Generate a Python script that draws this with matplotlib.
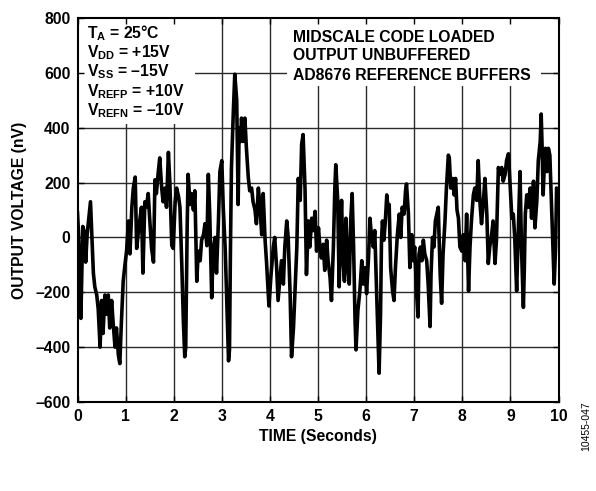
import matplotlib
matplotlib.use("Agg")
import matplotlib.pyplot as plt
from matplotlib.patches import Rectangle

# noise trace (time in s, output in nV)
time_s = [
    0.00, 0.02, 0.04, 0.07, 0.09, 0.11, 0.14, 0.17, 0.20, 0.23, 0.27, 0.29, 0.33, 0.36, 0.40, 0.43,
    0.47, 0.50, 0.53, 0.57, 0.60, 0.64, 0.67, 0.71, 0.74, 0.78, 0.81, 0.85, 0.88, 0.91, 0.95, 0.98,
    1.02, 1.06, 1.09, 1.13, 1.16, 1.20, 1.23, 1.26, 1.30, 1.33, 1.36, 1.40, 1.43, 1.47, 1.50, 1.54,
    1.58, 1.61, 1.64, 1.68, 1.71, 1.75, 1.78, 1.82, 1.85, 1.89, 1.92, 1.96, 1.99, 2.03, 2.06, 2.10,
    2.13, 2.17, 2.20, 2.23, 2.25, 2.28, 2.30, 2.34, 2.37, 2.41, 2.44, 2.48, 2.51, 2.55, 2.58, 2.62,
    2.65, 2.69, 2.72, 2.75, 2.79, 2.82, 2.86, 2.89, 2.93, 2.96, 3.00, 3.03, 3.07, 3.10, 3.14, 3.16,
    3.18, 3.20, 3.24, 3.27, 3.31, 3.34, 3.36, 3.39, 3.41, 3.44, 3.48, 3.51, 3.55, 3.58, 3.62, 3.65,
    3.69, 3.72, 3.76, 3.79, 3.83, 3.86, 3.90, 3.93, 3.98, 4.02, 4.07, 4.10, 4.14, 4.17, 4.21, 4.24,
    4.28, 4.31, 4.35, 4.38, 4.42, 4.45, 4.49, 4.52, 4.56, 4.59, 4.63, 4.66, 4.69, 4.73, 4.76, 4.80,
    4.83, 4.87, 4.90, 4.94, 4.97, 5.01, 5.04, 5.07, 5.11, 5.14, 5.18, 5.21, 5.25, 5.28, 5.32, 5.35,
    5.37, 5.41, 5.44, 5.47, 5.49, 5.52, 5.55, 5.58, 5.62, 5.65, 5.68, 5.71, 5.74, 5.77, 5.79, 5.83,
    5.87, 5.91, 5.94, 5.98, 6.01, 6.05, 6.08, 6.11, 6.15, 6.18, 6.22, 6.25, 6.27, 6.30, 6.32, 6.34,
    6.37, 6.40, 6.43, 6.46, 6.48, 6.51, 6.55, 6.58, 6.61, 6.65, 6.69, 6.72, 6.75, 6.79, 6.82, 6.84,
    6.88, 6.91, 6.95, 6.98, 7.01, 7.05, 7.08, 7.10, 7.13, 7.16, 7.19, 7.22, 7.26, 7.29, 7.33, 7.35,
    7.38, 7.41, 7.44, 7.47, 7.50, 7.54, 7.57, 7.60, 7.64, 7.67, 7.71, 7.73, 7.76, 7.80, 7.83, 7.86,
    7.89, 7.92, 7.95, 7.99, 8.02, 8.06, 8.09, 8.13, 8.16, 8.19, 8.23, 8.26, 8.30, 8.33, 8.37, 8.40,
    8.44, 8.47, 8.51, 8.54, 8.57, 8.61, 8.64, 8.68, 8.71, 8.75, 8.78, 8.82, 8.85, 8.89, 8.92, 8.96,
    8.99, 9.03, 9.06, 9.09, 9.13, 9.16, 9.20, 9.23, 9.27, 9.29, 9.31, 9.34, 9.37, 9.41, 9.44, 9.48,
    9.51, 9.55, 9.58, 9.62, 9.64, 9.66, 9.68, 9.71, 9.73, 9.76, 9.79, 9.82, 9.86, 9.89, 9.91, 9.94,
    9.96, 10.00,
]
output_nv = [
    90, 20, -130, -295, -120, 40, 20, -90, 10, 60, 130, 40, -130, -180, -210, -260,
    -400, -230, -350, -210, -280, -210, -330, -230, -310, -400, -330, -430, -460, -320, -160, -110,
    -50, 60, -60, 110, 180, 220, -40, 10, 70, 110, -130, 130, 110, 160, 70, -40,
    -90, 210, 160, 240, 290, 180, 130, 180, 110, 310, 200, -30, -40, 130, 180, 150,
    110, -110, -300, -435, -400, 40, 230, 120, 160, 100, 170, -160, -50, -85, -10, 10,
    50, -30, 230, 80, -220, -50, 0, -130, 60, 240, 280, 110, -40, -210, -450, -410,
    -40, 250, 460, 595, 500, 120, 400, 350, 435, 350, 435, 330, 220, 170, 180, 130,
    100, 50, 180, 120, 10, 160, -10, -90, -250, -145, -35, 0, -110, -230, -145, -85,
    -170, -35, 60, 0, -205, -435, -330, -205, -35, 215, 135, 340, 375, 180, -135, 60,
    -35, 70, 25, 95, -50, 35, -35, -75, -25, -120, -10, -85, -145, -230, -35, 180,
    265, 135, -180, 35, 135, -85, -160, 70, -110, -170, 60, 160, -35, -300, -410, -265,
    -195, -85, -170, -110, -205, -75, 70, 10, -35, 25, -205, -375, -495, -280, -10, 60,
    -10, 60, 155, 95, 120, -110, -195, -230, -110, 10, 85, 0, 110, 85, 170, 195,
    85, -110, 10, -85, -35, -205, -290, -60, -35, -85, -10, -60, -85, -170, -325, -135,
    0, -35, 60, 85, 110, -135, -240, -60, 60, 180, 300, 290, 180, 215, 155, 215,
    100, 70, -35, -50, 10, -85, 85, -195, -35, 60, 155, 180, 135, 280, 120, 50,
    135, 215, 85, -95, -35, 10, 60, -95, -10, 255, 230, 255, 205, 230, 280, 305,
    205, 70, 85, 0, -195, 0, 240, -35, -255, -110, 85, 155, 110, 180, 70, 205,
    35, 135, 280, 350, 450, 325, 155, 280, 325, 240, 325, 300, 95, -60, -170, -35,
    180, 150,
]

x_ticks = [0, 1, 2, 3, 4, 5, 6, 7, 8, 9, 10]
y_ticks = [-600, -400, -200, 0, 200, 400, 600, 800]
y_tick_labels = ["\u2013600", "\u2013400", "\u2013200", "0", "200", "400", "600", "800"]

conditions = [
    "T$_\\mathrm{A}$ = 25\u00b0C",
    "V$_\\mathrm{DD}$ = +15V",
    "V$_\\mathrm{SS}$ = \u201315V",
    "V$_\\mathrm{REFP}$ = +10V",
    "V$_\\mathrm{REFN}$ = \u201310V",
]
notes = ["MIDSCALE CODE LOADED", "OUTPUT UNBUFFERED", "AD8676 REFERENCE BUFFERS"]

plt.rcParams["font.family"] = ["Liberation Sans", "DejaVu Sans"]
plt.rcParams["font.weight"] = "bold"
plt.rcParams["mathtext.fontset"] = "custom"
plt.rcParams["mathtext.rm"] = "Liberation Sans:bold"
plt.rcParams["mathtext.it"] = "Liberation Sans:bold"
plt.rcParams["mathtext.bf"] = "Liberation Sans:bold"

W, H = 596, 491
fig = plt.figure(figsize=(W / 100, H / 100), dpi=100)
ax = fig.add_axes([77.5 / W, 1 - 402 / H, 481 / W, 384 / H])


def fx(px):
    return px / W


def fy(py):
    return 1 - py / H


for t in x_ticks[1:-1]:
    ax.axvline(t, color="#2a2a2a", lw=1.0, zorder=1)
for v in y_ticks[1:-1]:
    ax.axhline(v, color="#2a2a2a", lw=1.0, zorder=1)

# white boxes behind the annotation text
ax.add_patch(Rectangle((fx(77), fy(124)), fx(195) - fx(77), fy(17) - fy(124),
                       transform=fig.transFigure, facecolor="white", edgecolor="none", zorder=1.2))
ax.add_patch(Rectangle((fx(287), fy(86)), fx(541) - fx(287), fy(17) - fy(86),
                       transform=fig.transFigure, facecolor="white", edgecolor="none", zorder=1.2))

ax.plot(time_s, output_nv, color="black", lw=2.6, zorder=2)

ax.set_xlim(0, 10)
ax.set_ylim(-600, 800)
ax.set_xticks(x_ticks)
ax.set_xticklabels([str(t) for t in x_ticks], fontsize=11.3, fontweight="bold")
ax.set_yticks(y_ticks)
ax.set_yticklabels(y_tick_labels, fontsize=11.3, fontweight="bold")
ax.tick_params(direction="in", length=4, width=1, top=True, right=True, pad=5)
for s in ax.spines.values():
    s.set_linewidth(1.5)

ax.set_xlabel("TIME (Seconds)", fontsize=11.3, fontweight="bold", labelpad=4)
ax.set_ylabel("OUTPUT VOLTAGE (nV)", fontsize=11.3, fontweight="bold", labelpad=6)

for i, line in enumerate(conditions):
    fig.text(fx(87), fy(33 + i * 19.4), line, fontsize=11.3, fontweight="bold",
             ha="left", va="center", zorder=3)
for i, line in enumerate(notes):
    fig.text(fx(293), fy(37 + i * 19), line, fontsize=11.3, fontweight="bold",
             ha="left", va="center", zorder=3)

fig.text(fx(586), fy(426), "10455-047", fontsize=7.5, fontweight="normal",
         rotation=90, ha="center", va="center")

fig.savefig("out.png", dpi=100)
